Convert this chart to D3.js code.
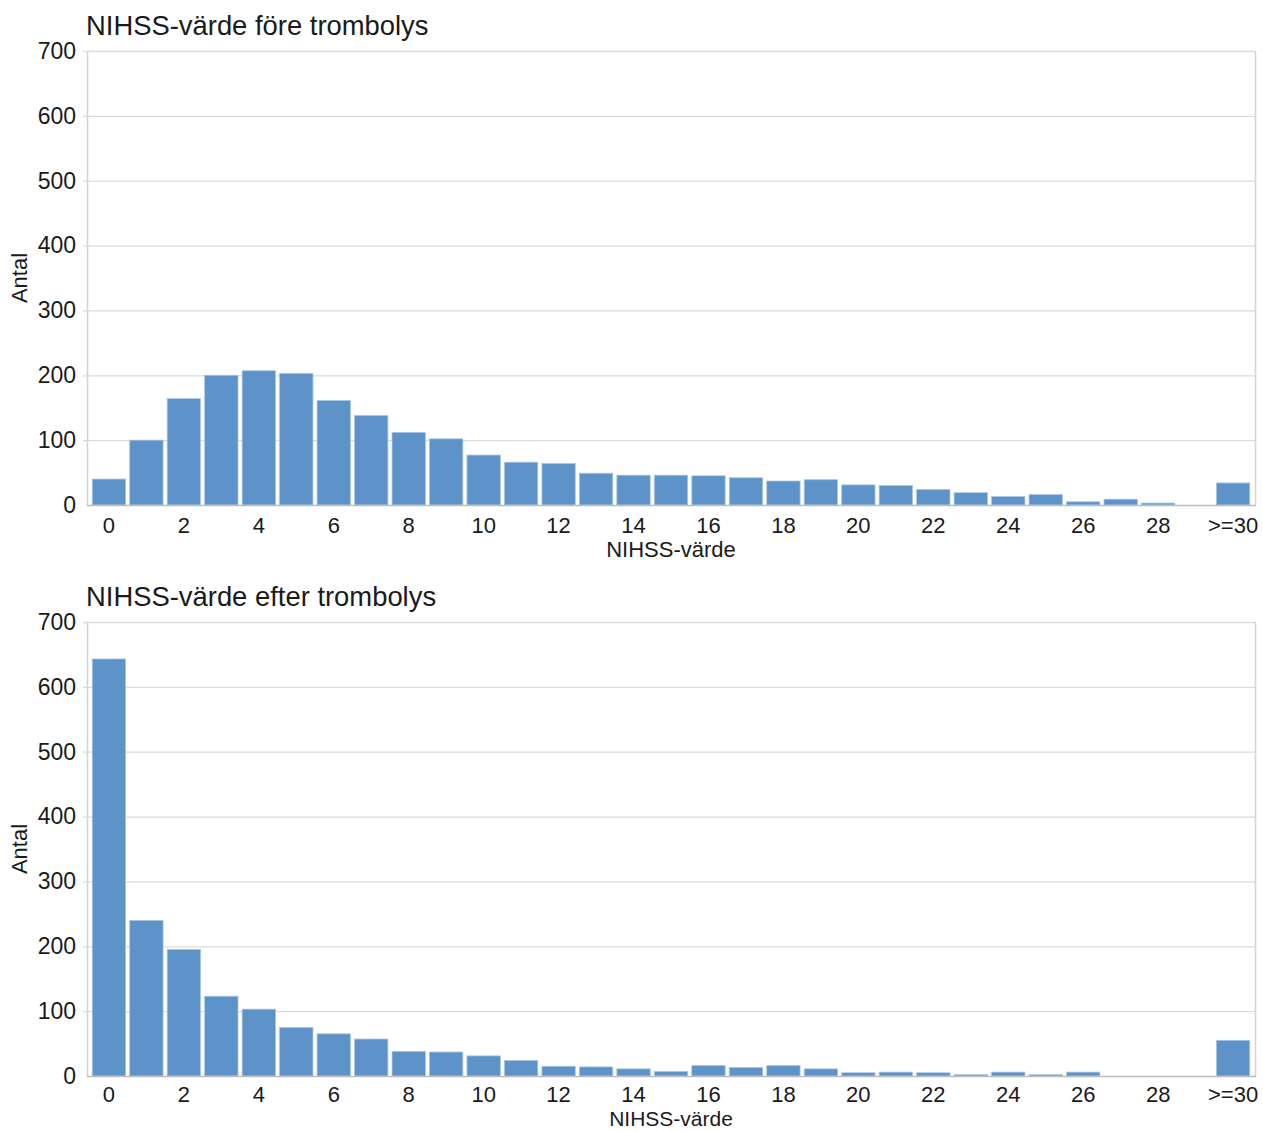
<!DOCTYPE html>
<html>
<head>
<meta charset="utf-8">
<script src="https://cdn.jsdelivr.net/npm/d3@7"></script>
<style>
  html, body { margin: 0; padding: 0; background: #fff; }
  svg { display: block; font-family: "Liberation Sans", Arial, sans-serif; }
</style>
</head>
<body>
<svg id="chart" width="1263" height="1131"></svg>
<script>
const categories = ["0","1","2","3","4","5","6","7","8","9","10","11","12","13","14","15","16","17","18","19","20","21","22","23","24","25","26","27","28","29",">=30"];
const tickLabels = ["0","2","4","6","8","10","12","14","16","18","20","22","24","26","28",">=30"];
const yTicks = [0,100,200,300,400,500,600,700];
const valuesBefore = [40,100,164,200,207,203,161,138,112,102,77,66,64,49,46,46,45,42,37,39,31,30,24,19,13,16,5,9,3,0,34];
const valuesAfter = [643,240,195,123,103,75,65,57,38,37,31,24,15,14,11,7,16,13,16,11,5,6,5,2,6,2,6,0,0,0,55];
const titles = ["NIHSS-värde före trombolys", "NIHSS-värde efter trombolys"];
const xTitle = "NIHSS-värde";
const yTitle = "Antal";

const svg = d3.select("#chart");
const left = 87, right = 1255;
const barColor = "#5d93c8";
const textColor = "#1a1a1a";

function panel(offsetY, title, values, tickPad, xTitleY, xTitleSize) {
  const g = svg.append("g").attr("transform", `translate(0,${offsetY})`);
  const top = 51, bottom = 505;
  const y = d3.scaleLinear().domain([0, 700]).range([bottom, top]);
  const x = d3.scaleBand().domain(categories).range([left + 3, right - 3]).paddingInner(0.11).paddingOuter(0.06);

  // gridlines
  g.append("g").selectAll("line").data(yTicks.filter(d => d > 0)).join("line")
    .attr("x1", left - 4).attr("x2", right)
    .attr("y1", d => y(d) + 0.5).attr("y2", d => y(d) + 0.5)
    .attr("stroke", "#dcdcdc").attr("stroke-width", 1.3);

  // frame left/right
  g.append("line").attr("x1", left + 0.5).attr("x2", left + 0.5).attr("y1", top).attr("y2", bottom)
    .attr("stroke", "#d4d4d4").attr("stroke-width", 1.5);
  g.append("line").attr("x1", right + 0.5).attr("x2", right + 0.5).attr("y1", top).attr("y2", bottom)
    .attr("stroke", "#d4d4d4").attr("stroke-width", 1.5);

  // bars
  g.append("g").selectAll("rect").data(values).join("rect")
    .attr("x", (d, i) => x(categories[i]))
    .attr("width", x.bandwidth())
    .attr("y", d => y(d))
    .attr("height", d => bottom - y(d))
    .attr("fill", barColor)
    .attr("stroke", "#a8c5e3").attr("stroke-width", d => d > 0 ? 0.8 : 0);

  // bottom axis line
  g.append("line").attr("x1", left).attr("x2", right + 1).attr("y1", bottom + 0.5).attr("y2", bottom + 0.5)
    .attr("stroke", "#bdbdbd").attr("stroke-width", 1.5);

  // y axis labels
  const yAxis = d3.axisLeft(y).tickValues(yTicks).tickSize(0).tickPadding(11);
  const ya = g.append("g").attr("transform", `translate(${left},0)`).call(yAxis);
  ya.select(".domain").remove();
  ya.selectAll("text").attr("font-size", 23).attr("fill", textColor)
    .attr("font-family", "'Liberation Sans', Arial, sans-serif");

  // x axis labels
  const xAxis = d3.axisBottom(x).tickValues(tickLabels).tickSize(0).tickPadding(tickPad);
  const xa = g.append("g").attr("transform", `translate(0,${bottom})`).call(xAxis);
  xa.select(".domain").remove();
  xa.selectAll("text").attr("font-size", 22).attr("fill", textColor)
    .attr("font-family", "'Liberation Sans', Arial, sans-serif");

  // titles
  g.append("text").attr("x", left - 1).attr("y", 35).attr("font-size", 27.4).attr("fill", textColor).text(title);
  g.append("text").attr("x", (left + right) / 2).attr("y", xTitleY).attr("text-anchor", "middle")
    .attr("font-size", xTitleSize).attr("fill", textColor).text(xTitle);
  g.append("text").attr("transform", `translate(27,${(top + bottom) / 2}) rotate(-90)`)
    .attr("text-anchor", "middle").attr("font-size", 22).attr("fill", textColor).text(yTitle);
}

panel(0, titles[0], valuesBefore, 12, 557, 22);
panel(571, titles[1], valuesAfter, 10, 555, 21);
</script>
</body>
</html>
